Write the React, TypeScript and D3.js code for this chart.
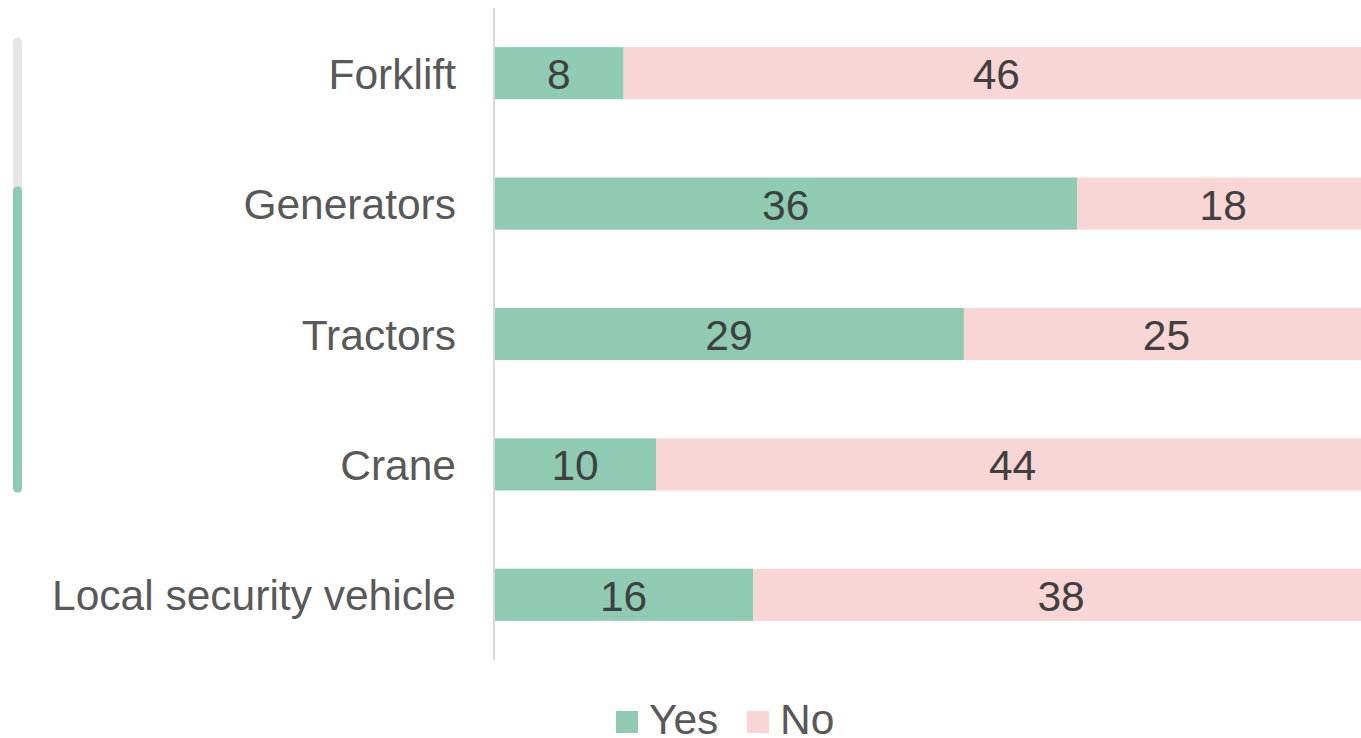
import * as d3 from "d3";

const categories = ["Forklift", "Generators", "Tractors", "Crane", "Local security vehicle"];
const yesValues = [8, 36, 29, 10, 16];
const noValues = [46, 18, 25, 44, 38];
const seriesNames = ["Yes", "No"];
const colors = ["#8ECBB2", "#F8D6D6"];

export default function App() {
  const width = 1361;
  const height = 738;
  const axisX = 494;

  const x = d3.scaleLinear([0, 54], [axisX, 1369]);
  const y = d3.scaleBand(categories, [8, 660]).paddingInner(0.6).paddingOuter(0.3);
  const bh = y.bandwidth();

  const fontFamily = "'Liberation Sans', Arial, sans-serif";
  const fs = 42.5;

  return (
    <svg width={width} height={height} style={{position: "absolute", left: 0, top: 0}}
      fontFamily={fontFamily}>
      {/* scroll bar at left */}
      <line x1={17.5} x2={17.5} y1={42} y2={488} stroke="#E6E6E6" strokeWidth={9} strokeLinecap="round" />
      <line x1={17.5} x2={17.5} y1={191} y2={488} stroke="#8ECBB2" strokeWidth={9} strokeLinecap="round" />

      {categories.map((c, i) => {
        const y0 = y(c)!;
        const yes = yesValues[i];
        const no = noValues[i];
        const cy = y0 + bh / 2;
        return (
          <g key={c}>
            <rect x={x(0)} y={y0} width={x(yes) - x(0)} height={bh} fill={colors[0]} />
            <rect x={x(yes)} y={y0} width={x(yes + no) - x(yes)} height={bh} fill={colors[1]} />
            <text x={(x(0) + x(yes)) / 2} y={cy + 16} textAnchor="middle" fontSize={fs} fill="#404040">{yes}</text>
            <text x={(x(yes) + x(yes + no)) / 2} y={cy + 16} textAnchor="middle" fontSize={fs} fill="#404040">{no}</text>
            <text x={456} y={cy + 15.5} textAnchor="end" fontSize={fs} fill="#595959">{c}</text>
          </g>
        );
      })}

      <line x1={axisX} x2={axisX} y1={8} y2={660} stroke="#D9D9D9" strokeWidth={2} />

      {seriesNames.map((s, i) => {
        const lx = [616, 747][i];
        return (
          <g key={s}>
            <rect x={lx} y={711} width={22} height={22} fill={colors[i]} />
            <text x={lx + 33} y={734} fontSize={fs} fill="#595959">{s}</text>
          </g>
        );
      })}
    </svg>
  );
}
